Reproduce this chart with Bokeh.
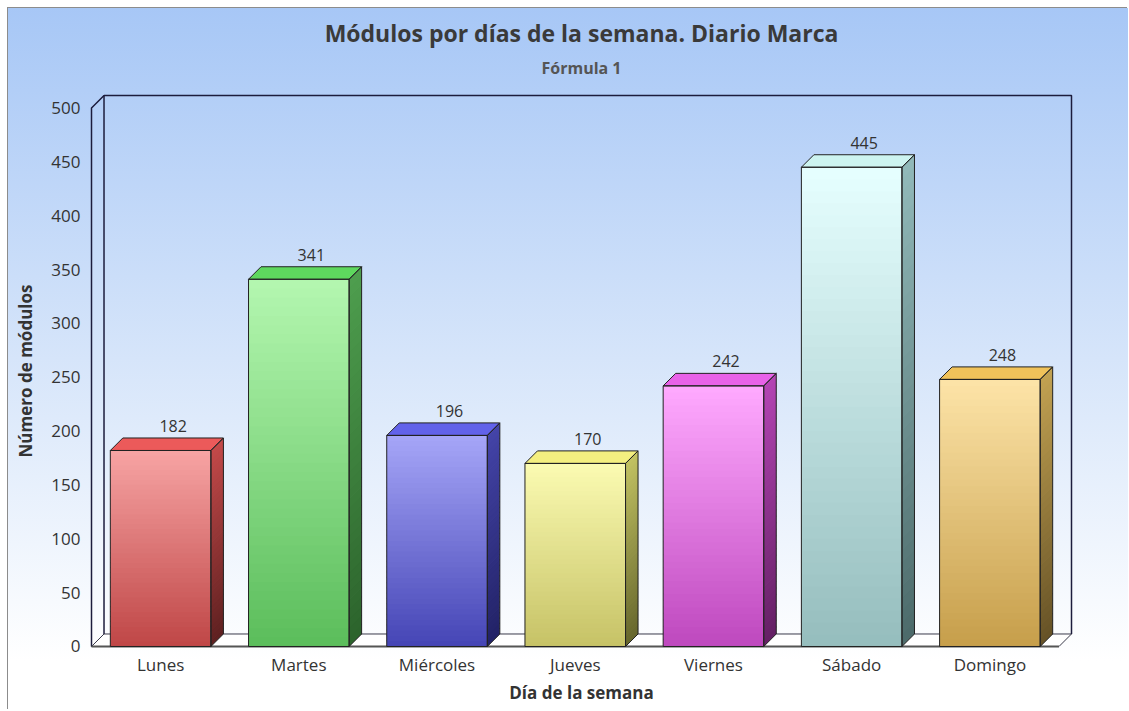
from bokeh.plotting import figure
from bokeh.models import Range1d, Title, FixedTicker
from bokeh.embed import file_html
from bokeh.resources import INLINE
from bokeh.core.properties import value

# ---------------- data ----------------
dias = ["Lunes", "Martes", "Miércoles", "Jueves", "Viernes", "Sábado", "Domingo"]
modulos = [182, 341, 196, 170, 242, 445, 248]
y_ticks = [0, 50, 100, 150, 200, 250, 300, 350, 400, 450, 500]

# ---------------- styles ----------------
front_top = ["#f7a4a4", "#b4f7b0", "#a6a6f8", "#fbfbb2", "#ffaaff", "#e6ffff", "#fde4a8"]
front_bot = ["#bf4646", "#5bbd5b", "#4545b5", "#c6c266", "#be48be", "#95bdbd", "#c69e4a"]
top_face = ["#ec5a5a", "#5ed85e", "#6262ea", "#f4ef80", "#e862e8", "#cdf4f0", "#f0c25a"]
side_top = ["#c44a4a", "#4e9e4e", "#4444a8", "#c2c262", "#b444b4", "#92baba", "#c2a252"]
side_bot = ["#5e2020", "#2c632c", "#222266", "#66662c", "#642064", "#4c6a6a", "#665226"]

PX = 138.1          # px per category
PY = 1.076          # px per unit
DX = 12.5 / PX      # depth offset in x units
DY = 12.5 / PY      # depth offset in y units
BW = 100.5 / PX     # bar width
N = 40              # gradient slices
FONT = "Open Sans"


def hex2rgb(h):
    h = h.lstrip("#")
    return tuple(int(h[i:i + 2], 16) for i in (0, 2, 4))


def lerp(c0, c1, t):
    a, b = hex2rgb(c0), hex2rgb(c1)
    return "#%02x%02x%02x" % tuple(int(round(a[j] + (b[j] - a[j]) * t)) for j in range(3))


p = figure(width=1120, height=702,
           x_range=Range1d(-0.5 - 2 / PX, 6.5 + DX + 2 / PX),
           y_range=Range1d(-2 / PY, 500 + DY + 2 / PY),
           output_backend="svg", toolbar_location=None,
           min_border_left=81, min_border_right=55, min_border_top=85, min_border_bottom=62,
           background_fill_alpha=0, border_fill_alpha=0, outline_line_color=None)
p.styles = {"background": "linear-gradient(to bottom, #a7c7f6 0%, #d6e5fa 50%, #ffffff 93%)",
            "box-shadow": "-1px -1px 0 0 #8c8c8c",
            "margin-left": "8px", "margin-top": "8px"}
p.grid.visible = False

# titles
sub = Title(text="Fórmula 1", text_font=FONT, text_font_size="16px", text_font_style="bold",
            text_color="#555555", align="center", offset=-7, standoff=26, vertical_align="top")
p.add_layout(sub, "above")
main = Title(text="Módulos por días de la semana. Diario Marca", text_font=FONT,
             text_font_size="23px", text_font_style="bold", text_color="#3a3a3a",
             align="center", offset=-7, standoff=-15, vertical_align="top")
p.add_layout(main, "above")

# axes
p.xaxis.ticker = FixedTicker(ticks=list(range(len(dias))))
p.xaxis.major_label_overrides = {i: d for i, d in enumerate(dias)}
p.yaxis.ticker = FixedTicker(ticks=y_ticks)
for ax in (p.xaxis, p.yaxis):
    ax.axis_line_color = None
    ax.major_tick_line_color = None
    ax.minor_tick_line_color = None
    ax.major_tick_out = 0
    ax.major_tick_in = 0
    ax.major_label_text_font = FONT
    ax.major_label_text_font_size = "17px"
    ax.major_label_text_color = "#333333"
    ax.axis_label_text_font = FONT
    ax.axis_label_text_font_size = "17px"
    ax.axis_label_text_font_style = "bold"
    ax.axis_label_text_color = "#333333"
p.xaxis.axis_label = "Día de la semana"
p.yaxis.axis_label = "Número de módulos"
p.xaxis.major_label_standoff = 4
p.yaxis.major_label_standoff = 9
p.xaxis.axis_label_standoff = 2
p.yaxis.axis_label_standoff = 11

# ---------------- walls ----------------
x0, x1 = -0.5, len(dias) - 0.5
ytop = y_ticks[-1]
p.patch([x0, x1, x1 + DX, x0 + DX], [0, 0, DY, DY], fill_color="white",
        line_color="#3a3a4a", line_width=1)
p.line([x0 + DX, x0 + DX, x1 + DX, x1 + DX], [DY, ytop + DY, ytop + DY, DY],
       line_color="#1c1c3c", line_width=1.5)
p.line([x0, x0, x0 + DX], [0, ytop, ytop + DY], line_color="#1c1c3c", line_width=1.5)
p.line([x0, x1], [0, 0], line_color="#555555", line_width=2)

# ---------------- bars ----------------
OV = 1.2 / PY  # slice overlap to hide seams
for i, v in enumerate(modulos):
    l, r = i - BW / 2, i + BW / 2
    bots = [v * k / N for k in range(N)]
    tops = [min(v, v * (k + 1) / N + OV) for k in range(N)]
    cols = [lerp(front_bot[i], front_top[i], (k + 0.5) / N) for k in range(N)]
    p.quad(left=l, right=r, bottom=bots, top=tops, fill_color=cols, line_color=None)
    scols = [lerp(side_bot[i], side_top[i], (k + 0.5) / N) for k in range(N)]
    xs = [[r, r + DX, r + DX, r] for _ in range(N)]
    ys = [[b, b + DY, t + DY, t] for b, t in zip(bots, tops)]
    p.patches(xs, ys, fill_color=scols, line_color=None)
    # top face
    p.patch([l, l + DX, r + DX, r], [v, v + DY, v + DY, v], fill_color=top_face[i],
            line_color="#222222", line_width=1)
    # outlines
    p.quad(left=l, right=r, bottom=0, top=v, fill_color=None, line_color="#222222", line_width=1)
    p.patch([r, r + DX, r + DX, r], [0, DY, v + DY, v], fill_color=None,
            line_color="#222222", line_width=1)

# value labels
p.text(x=[i + DX for i in range(len(dias))], y=[v + DY + 12 / PY for v in modulos],
       text=[str(v) for v in modulos], text_align="center", text_baseline="alphabetic",
       text_font=value(FONT), text_font_size="16px", text_color="#333333")

open("out.html", "w").write(file_html(p, INLINE))
